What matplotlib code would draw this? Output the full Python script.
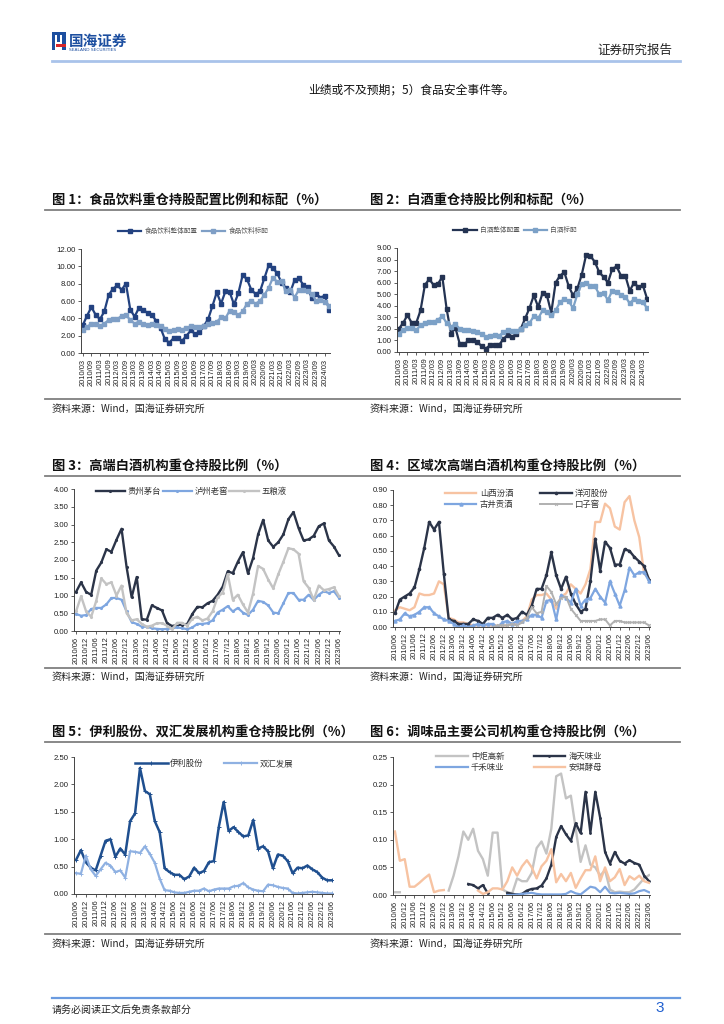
import numpy as np
import matplotlib
matplotlib.use("Agg")
import matplotlib.pyplot as plt
from matplotlib.lines import Line2D
from matplotlib.patches import Rectangle

plt.rcParams['font.family'] = ['Noto Sans CJK SC', 'DejaVu Sans']
plt.rcParams['axes.unicode_minus'] = False

nan = np.nan

# ---------------- data ----------------
# Fig 1 (quarterly 2010Q1 - 2024Q2)
f1_labels = [f"{y}/{m}" for y in range(2010, 2025) for m in ("03", "09")][:29]
f1_total = [3.2, 4.3, 5.3, 4.4, 3.9, 4.8, 6.7, 7.4, 7.8, 7.3, 8.0, 5.0, 4.2, 5.2, 5.0, 4.6,
            4.4, 3.7, 2.9, 1.6, 1.2, 1.7, 1.7, 1.4, 2.0, 2.6, 2.2, 2.4, 3.1, 3.9, 5.4, 7.0,
            5.7, 7.1, 7.0, 5.6, 6.9, 9.0, 8.5, 7.3, 6.8, 7.1, 8.6, 10.1, 9.8, 9.2, 8.1, 7.5,
            7.0, 8.4, 8.6, 7.9, 7.6, 6.3, 6.8, 6.4, 6.6, 5.0]
f1_bench = [2.6, 3.0, 3.4, 3.3, 3.1, 3.4, 3.8, 3.9, 3.9, 4.3, 4.4, 3.8, 3.4, 3.6, 3.3, 3.2,
            3.3, 3.2, 3.1, 2.8, 2.5, 2.6, 2.8, 2.7, 2.9, 3.1, 3.0, 3.0, 3.1, 3.3, 3.5, 3.6,
            4.1, 4.0, 4.9, 4.7, 4.4, 4.8, 5.7, 6.0, 5.7, 6.0, 6.7, 7.5, 8.7, 8.2, 8.3, 7.1,
            7.3, 6.4, 7.3, 7.3, 7.1, 6.8, 6.0, 6.1, 5.9, 5.4]

# Fig 2
f2_labels = f1_labels
f2_total = [2.0, 2.5, 3.2, 2.5, 2.5, 3.6, 5.8, 6.3, 5.8, 5.9, 6.5, 3.7, 1.6, 2.1, 0.7, 0.65,
            1.0, 1.0, 0.9, 0.5, 0.3, 0.6, 0.6, 0.6, 1.1, 1.5, 1.3, 1.6, 2.0, 2.9, 3.8, 4.9,
            3.9, 5.1, 4.9, 3.4, 6.0, 6.6, 6.9, 5.7, 4.9, 5.5, 6.7, 8.4, 8.3, 7.8, 6.9, 6.5,
            6.0, 7.2, 7.4, 6.6, 6.6, 5.3, 6.0, 5.6, 5.8, 4.6]
f2_bench = [1.6, 1.9, 2.1, 2.1, 1.9, 2.3, 2.5, 2.6, 2.6, 2.8, 3.1, 2.5, 2.2, 2.4, 2.0, 1.9,
            1.9, 1.8, 1.7, 1.6, 1.3, 1.4, 1.5, 1.4, 1.7, 1.9, 1.8, 1.8, 2.0, 2.3, 2.5, 3.1,
            2.9, 3.6, 3.5, 3.2, 3.6, 4.3, 4.6, 4.4, 3.8, 5.0, 5.9, 6.0, 5.7, 5.7, 5.0, 5.1,
            4.5, 5.3, 5.2, 4.9, 4.8, 4.2, 4.6, 4.4, 4.3, 3.8]

# Figs 3-6 (quarterly 2010Q2 - 2023Q2)
q_labels = [f"{y}/{m}" for y in range(2010, 2024) for m in ("06", "12")][:27]

f3_maotai = [1.10, 1.37, 1.10, 1.02, 1.70, 1.93, 2.30, 2.23, 2.57, 2.88, 1.80, 0.95, 1.52, 0.33,
             0.32, 0.72, 0.65, 0.58, 0.22, 0.14, 0.17, 0.18, 0.20, 0.48, 0.68, 0.67, 0.78, 0.85,
             1.02, 1.25, 1.68, 1.63, 1.95, 2.22, 1.62, 2.05, 2.72, 3.13, 2.55, 2.37, 2.50, 2.72,
             3.15, 3.35, 2.90, 2.55, 2.58, 2.68, 2.95, 3.03, 2.55, 2.38, 2.13]
f3_luzhou = [0.48, 0.43, 0.45, 0.62, 0.65, 0.65, 0.75, 0.93, 0.93, 0.88, 0.55, 0.25, 0.20, 0.12,
             0.12, 0.08, 0.06, 0.05, 0.06, 0.08, 0.10, 0.08, 0.05, 0.10, 0.20, 0.20, 0.22, 0.30,
             0.52, 0.60, 0.70, 0.55, 0.65, 0.52, 0.45, 0.60, 0.85, 0.82, 0.72, 0.52, 0.50, 0.78,
             1.07, 1.07, 0.88, 0.88, 1.02, 0.87, 1.02, 1.12, 1.07, 1.12, 0.93]
f3_wuliang = [0.55, 0.98, 0.55, 0.40, 0.85, 1.48, 1.32, 1.37, 1.00, 1.28, 0.50, 0.30, 0.33, 0.20,
              0.12, 0.15, 0.22, 0.22, 0.15, 0.05, 0.23, 0.23, 0.15, 0.35, 0.40, 0.30, 0.35, 0.55,
              0.95, 1.08, 1.60, 0.88, 1.02, 0.75, 0.52, 1.05, 1.83, 1.75, 1.45, 1.20, 1.60, 1.95,
              2.33, 2.30, 2.18, 1.40, 1.22, 0.88, 1.28, 1.15, 1.18, 1.23, 0.98]

f4_fenjiu = [0.11, 0.13, 0.12, 0.11, 0.13, 0.22, 0.21, 0.21, 0.22, 0.30, 0.28, 0.06, 0.05, 0.03,
             0.03, 0.02, 0.01, 0.01, 0.01, 0.01, 0.01, 0.01, 0.01, 0.01, 0.02, 0.03, 0.04, 0.07,
             0.18, 0.21, 0.21, 0.22, 0.18, 0.12, 0.20, 0.22, 0.28, 0.25, 0.22, 0.28, 0.38, 0.69,
             0.69, 0.81, 0.78, 0.66, 0.64, 0.82, 0.86, 0.70, 0.59, 0.35, 0.32]
f4_yanghe = [0.09, 0.18, 0.20, 0.22, 0.26, 0.38, 0.52, 0.69, 0.64, 0.69, 0.35, 0.05, 0.04, 0.02,
             0.02, 0.02, 0.05, 0.04, 0.02, 0.06, 0.06, 0.08, 0.06, 0.08, 0.05, 0.06, 0.10, 0.08,
             0.14, 0.25, 0.25, 0.34, 0.49, 0.34, 0.25, 0.33, 0.22, 0.15, 0.10, 0.12, 0.30, 0.58,
             0.37, 0.56, 0.52, 0.41, 0.41, 0.51, 0.50, 0.46, 0.43, 0.40, 0.31]
f4_gujing = [0.04, 0.05, 0.09, 0.07, 0.08, 0.10, 0.13, 0.13, 0.09, 0.07, 0.05, 0.04, 0.02, 0.00,
             0.01, 0.00, 0.01, 0.02, 0.01, 0.02, 0.02, 0.00, 0.03, 0.04, 0.02, 0.04, 0.04, 0.05,
             0.08, 0.08, 0.06, 0.17, 0.18, 0.05, 0.21, 0.19, 0.16, 0.25, 0.14, 0.18, 0.19, 0.25,
             0.20, 0.16, 0.30, 0.22, 0.14, 0.24, 0.39, 0.34, 0.36, 0.36, 0.30]
f4_kouzi = [nan, nan, nan, nan, nan, nan, nan, nan, nan, nan, nan, nan, nan, nan,
            nan, nan, nan, nan, nan, nan, 0.00, 0.01, 0.01, 0.01, 0.02, 0.01, 0.03, 0.06,
            0.13, 0.09, 0.10, 0.27, 0.23, 0.15, 0.19, 0.20, 0.12, 0.08, 0.04, 0.04, 0.04, 0.04,
            0.05, 0.05, 0.01, 0.04, 0.04, 0.03, 0.03, 0.03, 0.03, 0.03, 0.01]

f5_yili = [0.62, 0.80, 0.58, 0.48, 0.43, 0.70, 0.97, 1.00, 0.68, 0.83, 0.72, 1.33, 1.47, 2.30,
           1.88, 1.82, 1.33, 1.13, 0.47, 0.40, 0.35, 0.35, 0.27, 0.32, 0.48, 0.38, 0.42, 0.58,
           0.60, 1.22, 1.68, 1.15, 1.22, 1.13, 1.05, 1.07, 1.35, 0.83, 0.87, 0.78, 0.47, 0.72,
           0.70, 0.60, 0.38, 0.48, 0.47, 0.52, 0.45, 0.40, 0.30, 0.25, 0.25]
f5_shuanghui = [0.38, 0.37, 0.70, 0.45, 0.33, 0.45, 0.57, 0.52, 0.40, 0.43, 0.30, 0.78, 0.77, 0.75,
                0.87, 0.73, 0.57, 0.28, 0.07, 0.06, 0.03, 0.02, 0.02, 0.04, 0.06, 0.06, 0.10, 0.05,
                0.08, 0.10, 0.10, 0.10, 0.14, 0.15, 0.20, 0.12, 0.08, 0.06, 0.05, 0.17, 0.16, 0.13,
                0.11, 0.10, 0.02, 0.01, 0.02, 0.03, 0.04, 0.03, 0.02, 0.01, 0.01]

f6_zhongju = [0.005, 0.005, nan, nan, nan, nan, nan, nan, nan, nan, nan, 0.008, 0.035, 0.070,
              0.115, 0.100, 0.120, 0.080, 0.065, 0.035, 0.113, 0.113, 0.010, 0.005, 0.003, 0.030,
              0.025, 0.025, 0.040, 0.085, 0.097, 0.075, 0.120, 0.215, 0.220, 0.175, 0.180, 0.120,
              0.060, 0.090, 0.055, 0.050, 0.035, 0.045, 0.010, 0.005, 0.006, 0.005, 0.005, 0.010,
              0.020, 0.030, 0.036]
f6_haitian = [nan, nan, nan, nan, nan, nan, nan, nan, nan, nan, nan, nan, nan, nan,
              nan, 0.020, 0.018, 0.012, 0.018, 0.003, nan, nan, nan, 0.004, 0.002, 0.001,
              0.002, 0.008, 0.011, 0.012, 0.017, 0.030, 0.055, 0.105, 0.125, 0.110, 0.098, 0.130,
              0.112, 0.187, 0.113, 0.187, 0.140, 0.078, 0.057, 0.078, 0.062, 0.057, 0.063, 0.058,
              0.055, 0.035, 0.025]
f6_qianhe = [nan, nan, nan, nan, nan, nan, nan, nan, nan, nan, nan, nan, nan, nan,
             nan, nan, nan, nan, nan, nan, nan, nan, nan, 0.000, 0.000, 0.001, 0.002, 0.003,
             0.004, 0.002, 0.001, 0.001, 0.001, 0.001, 0.001, 0.002, 0.007, 0.003, 0.001, 0.008,
             0.015, 0.013, 0.005, 0.015, 0.004, 0.003, 0.004, 0.003, 0.002, 0.003, 0.007, 0.009,
             0.005]
f6_angel = [0.115, 0.062, 0.065, 0.015, 0.015, 0.022, 0.030, 0.037, 0.005, 0.008, 0.009, nan, nan,
            nan, nan, nan, nan, 0.008, 0.002, 0.005, 0.012, 0.012, 0.010, 0.025, 0.050, 0.035,
            0.052, 0.063, 0.050, 0.030, 0.052, 0.062, 0.083, 0.023, 0.038, 0.025, 0.040, 0.013,
            0.030, 0.045, 0.045, 0.070, 0.025, 0.050, 0.025, 0.032, 0.047, 0.018, 0.034, 0.028,
            0.035, 0.025, 0.022]

# ---------------- figure ----------------
W, H = 724, 1024
fig = plt.figure(figsize=(W / 100, H / 100), dpi=100)
fig.patch.set_facecolor('white')


def fx(x):
    return x / W


def fy(y):
    return 1 - y / H


def hline(x0, x1, y, color, lw):
    fig.add_artist(Line2D([fx(x0), fx(x1)], [fy(y), fy(y)], transform=fig.transFigure,
                          color=color, lw=lw))


def ftext(x, y, s, **kw):
    fig.text(fx(x), fy(y), s, **kw)


# header
logo_c = '#1d4fa0'
for (x, y, w, h, c) in [(52, 32, 3, 18, logo_c), (57, 32, 3, 10, logo_c), (62, 32, 4, 18, logo_c),
                        (52, 32, 14, 3, logo_c), (56, 44, 10, 3, '#d7262b')]:
    fig.add_artist(Rectangle((fx(x), fy(y + h)), w / W, h / H, transform=fig.transFigure,
                             color=c, lw=0))
ftext(69, 41, "国海证券", fontsize=10.5, fontweight='bold', color=logo_c, va='center')
ftext(69, 50, "SEALAND SECURITIES", fontsize=3.2, color=logo_c, va='center',
      family=['DejaVu Sans'])
ftext(672, 50, "证券研究报告", fontsize=9, color='#222222', ha='right', va='center')
hline(52, 680, 60.5, '#a9c3ea', 2.0)
ftext(308, 90, "业绩或不及预期；5）食品安全事件等。", fontsize=8.5, color='#111111', va='center')

# section titles & rules
titles = [
    (52, 200, "图 1：食品饮料重仓持股配置比例和标配（%）"),
    (370, 200, "图 2：白酒重仓持股比例和标配（%）"),
    (52, 466, "图 3：高端白酒机构重仓持股比例（%）"),
    (370, 466, "图 4：区域次高端白酒机构重仓持股比例（%）"),
    (52, 732, "图 5：伊利股份、双汇发展机构重仓持股比例（%）"),
    (370, 732, "图 6：调味品主要公司机构重仓持股比例（%）"),
]
for x, y, s in titles:
    ftext(x, y, s, fontsize=9.5, fontweight='bold', color='#111111', va='center')
for y in (210, 476, 742):
    hline(45, 680, y, '#7f7f7f', 1.3)
for y in (399, 668, 934):
    hline(45, 680, y, '#7f7f7f', 1.3)
for y in (409, 677, 944):
    ftext(52, y, "资料来源：Wind，国海证券研究所", fontsize=7.2, color='#222222', va='center')
    ftext(370, y, "资料来源：Wind，国海证券研究所", fontsize=7.2, color='#222222', va='center')

# footer
hline(52, 680, 998, '#6a9be0', 1.6)
ftext(52, 1010, "请务必阅读正文后免责条款部分", fontsize=7.2, color='#222222', va='center')
ftext(664, 1008, "3", fontsize=11, color='#1f5fd0', ha='right', va='center',
      family=['Liberation Sans'])

tick_font = ['Liberation Sans', 'DejaVu Sans']


def make_ax(left, top, right, bottom, n, labels, ymax, ystep, step=2):
    ax = fig.add_axes([fx(left), fy(bottom), (right - left) / W, (bottom - top) / H])
    ax.set_xlim(-0.4, n - 0.8)
    ax.set_ylim(0, ymax)
    yt = np.round(np.arange(0, ymax + ystep / 2, ystep), 4)
    ax.set_yticks(yt)
    ax.set_yticklabels([f"{v:.2f}" for v in yt], fontsize=5.6, family=tick_font, color='#222222')
    pos = np.arange(0, n, step)[:len(labels)]
    ax.set_xticks(pos)
    ax.set_xticklabels(labels[:len(pos)], rotation=90, fontsize=5.4, family=tick_font,
                       color='#222222')
    for s in ('top', 'right'):
        ax.spines[s].set_visible(False)
    for s in ('left', 'bottom'):
        ax.spines[s].set_color('#444444')
        ax.spines[s].set_linewidth(0.7)
    ax.tick_params(axis='y', length=2.5, width=0.6, pad=1.5, color='#444444')
    ax.tick_params(axis='x', length=2.5, width=0.6, pad=1.5, color='#444444')
    ax.set_facecolor('none')
    return ax


# ---- Fig 1 ----
n1 = len(f1_total)
ax1 = make_ax(81, 249, 330, 353, n1, f1_labels, 12, 2)
x1 = np.arange(n1)
ax1.plot(x1, f1_total, color='#234280', lw=1.6, marker='s', ms=2.2, label='食品饮料整体配置')
ax1.plot(x1, f1_bench, color='#7f9fc6', lw=1.6, marker='s', ms=2.2, label='食品饮料标配')
ax1.legend(loc='center', bbox_to_anchor=(0.45, 1.17), ncol=2, frameon=False, fontsize=4.8,
           handlelength=3.5, columnspacing=0.6, handletextpad=0.5, labelcolor='#555555')

# ---- Fig 2 ----
n2 = len(f2_total)
ax2 = make_ax(397, 248, 648, 352, n2, f2_labels, 9, 1)
x2 = np.arange(n2)
ax2.plot(x2, f2_total, color='#243352', lw=1.6, marker='s', ms=2.2, label='白酒整体配置')
ax2.plot(x2, f2_bench, color='#7ca1c7', lw=1.6, marker='s', ms=2.2, label='白酒标配')
ax2.legend(loc='center', bbox_to_anchor=(0.47, 1.17), ncol=2, frameon=False, fontsize=4.8,
           handlelength=3.5, columnspacing=0.6, handletextpad=0.5, labelcolor='#555555')

# ---- Fig 3 ----
n3 = len(f3_maotai)
ax3 = make_ax(74, 489, 340, 631, n3, q_labels, 4, 0.5)
x3 = np.arange(n3)
ax3.plot(x3, f3_maotai, color='#2b3448', lw=1.7, marker='.', ms=2.5, label='贵州茅台')
ax3.plot(x3, f3_luzhou, color='#7ea6e0', lw=1.6, marker='.', ms=2.5, label='泸州老窖')
ax3.plot(x3, f3_wuliang, color='#c3c3c3', lw=1.7, marker='.', ms=2.5, label='五粮液')
ax3.legend(loc='center', bbox_to_anchor=(0.44, 0.985), ncol=3, frameon=False, fontsize=6,
           handlelength=3.5, columnspacing=0.2, handletextpad=0.3, labelcolor='#333333')

# ---- Fig 4 ----
n4 = len(f4_yanghe)
ax4 = make_ax(393, 490, 650, 627, n4, q_labels, 0.9, 0.1)
x4 = np.arange(n4)
l_fen, = ax4.plot(x4, f4_fenjiu, color='#f7c3a2', lw=1.7, label='山西汾酒')
l_yh, = ax4.plot(x4, f4_yanghe, color='#2b3448', lw=1.7, marker='o', ms=1.6, label='洋河股份')
l_gj, = ax4.plot(x4, f4_gujing, color='#7ea6e0', lw=1.6, marker='^', ms=2.2, label='古井贡酒')
l_kz, = ax4.plot(x4, f4_kouzi, color='#b0b0b0', lw=1.4, marker='x', ms=2.0, mew=0.7, label='口子窖')
ax4.legend(handles=[l_fen, l_gj, l_yh, l_kz], loc='center', bbox_to_anchor=(0.52, 0.935),
           ncol=2, frameon=False, fontsize=6, handlelength=3.8, columnspacing=3.2,
           handletextpad=0.4, labelspacing=0.3, labelcolor='#333333')

# ---- Fig 5 ----
n5 = len(f5_yili)
ax5 = make_ax(74, 757, 333, 894, n5, q_labels, 2.5, 0.5)
x5 = np.arange(n5)
ax5.plot(x5, f5_yili, color='#1f4f8f', lw=1.8, marker='+', ms=2.5, mew=0.7, label='伊利股份')
ax5.plot(x5, f5_shuanghui, color='#8fb1e2', lw=1.6, marker='+', ms=2.5, mew=0.7, label='双汇发展')
ax5.legend(loc='center', bbox_to_anchor=(0.54, 0.95), ncol=2, frameon=False, fontsize=6,
           handlelength=4.0, columnspacing=2.4, handletextpad=0.3, labelcolor='#333333')

# ---- Fig 6 ----
n6 = len(f6_haitian)
ax6 = make_ax(393, 757, 650, 895, n6, q_labels, 0.25, 0.05)
x6 = np.arange(n6)
l_zj, = ax6.plot(x6, f6_zhongju, color='#c3c3c3', lw=1.7, label='中炬高新')
l_ht, = ax6.plot(x6, f6_haitian, color='#2b3448', lw=1.7, marker='.', ms=2, label='海天味业')
l_qh, = ax6.plot(x6, f6_qianhe, color='#7ea6e0', lw=1.6, label='千禾味业')
l_aq, = ax6.plot(x6, f6_angel, color='#f7c3a2', lw=1.7, label='安琪酵母')
ax6.legend(handles=[l_zj, l_qh, l_ht, l_aq], loc='center', bbox_to_anchor=(0.49, 0.965),
           ncol=2, frameon=False, fontsize=6, handlelength=3.8, columnspacing=3.5,
           handletextpad=0.4, labelspacing=0.3, labelcolor='#333333')

fig.savefig('out.png', dpi=100, facecolor='white')
